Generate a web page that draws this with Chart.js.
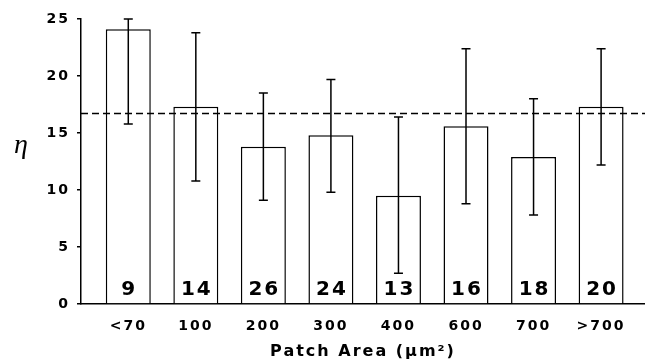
<!DOCTYPE html>
<html>
<head>
<meta charset="utf-8">
<script src="https://cdn.jsdelivr.net/npm/chart.js@4.4.1/dist/chart.umd.min.js"></script>
<style>
    html, body { margin: 0; padding: 0; background: #fff; }
</style>
</head>
<body>
<canvas id="etaChart" width="645" height="364"></canvas>
<script>
var categories = ['<70', '100', '200', '300', '400', '600', '700', '>700'];
var etaValues = [24.1, 17.3, 13.8, 14.8, 9.5, 15.6, 12.9, 17.3];
var errLow = [15.8, 10.8, 9.1, 9.8, 2.7, 8.8, 7.8, 12.2];
var errHigh = [25.0, 23.8, 18.5, 19.7, 16.4, 22.4, 18.0, 22.4];
var patchCounts = [9, 14, 26, 24, 13, 16, 18, 20];
var overallMean = 16.7;
var yTicks = [0, 5, 10, 15, 20, 25];

document.addEventListener("DOMContentLoaded", function() {
    // error bars, mean line, counts and the eta label
    var extrasPlugin = {
        id: 'extras',
        beforeDraw: function(chart) {
            chart.ctx.letterSpacing = '2px';
        },
        afterDatasetsDraw: function(chart) {
            var ctx = chart.ctx;
            var xs = chart.scales.x, ys = chart.scales.y, area = chart.chartArea;
            ctx.save();
            ctx.strokeStyle = '#000';
            ctx.fillStyle = '#000';

            // mean line
            ctx.lineWidth = 1.5;
            ctx.setLineDash([7, 4]);
            var ym = ys.getPixelForValue(overallMean);
            ctx.beginPath();
            ctx.moveTo(area.left, ym);
            ctx.lineTo(area.right, ym);
            ctx.stroke();
            ctx.setLineDash([]);

            // error bars
            ctx.lineWidth = 1.5;
            for (var i = 0; i < etaValues.length; i++) {
                var px = xs.getPixelForValue(i + 1);
                var yl = ys.getPixelForValue(errLow[i]);
                var yh = ys.getPixelForValue(errHigh[i]);
                ctx.beginPath();
                ctx.moveTo(px, yl); ctx.lineTo(px, yh);
                ctx.moveTo(px - 4.5, yl); ctx.lineTo(px + 4.5, yl);
                ctx.moveTo(px - 4.5, yh); ctx.lineTo(px + 4.5, yh);
                ctx.stroke();
            }

            // n per bin
            ctx.font = 'bold 20px "DejaVu Sans"';
            ctx.letterSpacing = '2px';
            ctx.textAlign = 'center';
            ctx.textBaseline = 'alphabetic';
            var y0 = ys.getPixelForValue(0);
            for (var j = 0; j < patchCounts.length; j++) {
                ctx.fillText(String(patchCounts[j]), xs.getPixelForValue(j + 1) + 1, y0 - 9);
            }

            // y title
            ctx.letterSpacing = '0px';
            ctx.font = 'italic 28px "Liberation Serif"';
            ctx.textBaseline = 'middle';
            ctx.fillText('\u03b7', 21, 146);
            ctx.restore();
        }
    };

    var ctx = document.getElementById('etaChart').getContext('2d');
    new Chart(ctx, {
        type: 'bar',
        data: {
            datasets: [{
                label: 'eta',
                data: etaValues.map(function(v, i) { return { x: i + 1, y: v }; }),
                backgroundColor: '#fff',
                borderColor: '#000',
                borderWidth: 1.5,
                barPercentage: 0.666,
                categoryPercentage: 1.0
            }]
        },
        options: {
            responsive: false,
            animation: false,
            layout: { padding: { top: 19, right: 0, bottom: 0, left: 0 } },
            plugins: {
                legend: { display: false },
                tooltip: { enabled: false }
            },
            scales: {
                x: {
                    type: 'linear',
                    offset: false,
                    min: 0.3,
                    max: 8.65,
                    afterBuildTicks: function(scale) {
                        scale.ticks = categories.map(function(c, i) { return { value: i + 1 }; });
                    },
                    afterFit: function(scale) { scale.height = 60; },
                    grid: { display: false, drawTicks: false },
                    border: { color: '#000', width: 1.5 },
                    ticks: {
                        padding: 14,
                        color: '#000',
                        maxRotation: 0,
                        font: { family: 'DejaVu Sans', size: 14, weight: 'bold' },
                        callback: function(v) { return categories[v - 1] || ''; }
                    },
                    title: {
                        display: true,
                        text: 'Patch Area (\u03bcm\u00b2)',
                        color: '#000',
                        padding: { top: 4, bottom: 3 },
                        font: { family: 'DejaVu Sans', size: 16, weight: 'bold' }
                    }
                },
                y: {
                    min: 0,
                    max: 25,
                    afterBuildTicks: function(scale) {
                        scale.ticks = yTicks.map(function(v) { return { value: v }; });
                    },
                    afterFit: function(scale) { scale.width = 81; },
                    grid: { drawOnChartArea: false, drawTicks: true, tickLength: 4, color: '#000', lineWidth: 1.5 },
                    border: { color: '#000', width: 1.5 },
                    ticks: {
                        padding: 7,
                        color: '#000',
                        font: { family: 'DejaVu Sans', size: 14, weight: 'bold' }
                    }
                }
            }
        },
        plugins: [extrasPlugin]
    });
});
</script>
</body>
</html>
